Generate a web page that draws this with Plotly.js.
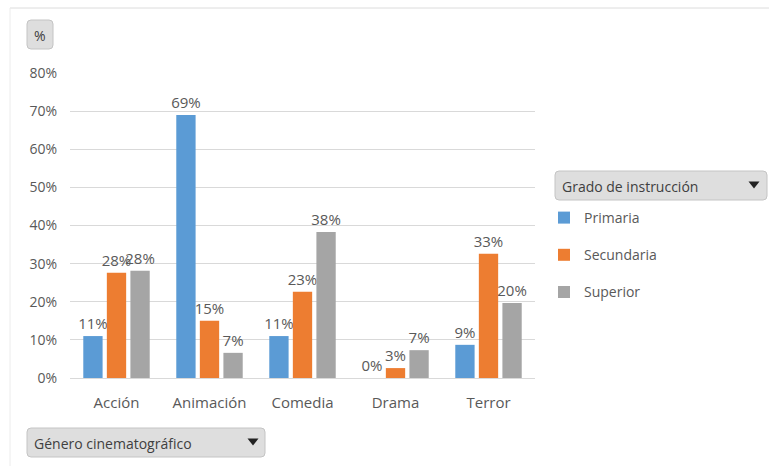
<!DOCTYPE html>
<html>
<head>
<meta charset="utf-8">
<script src="https://cdn.plot.ly/plotly-3.0.1.min.js"></script>
<style>html,body{margin:0;padding:0;background:#fff;}#chart{width:769px;height:466px;}</style>
</head>
<body>
<div id="chart"></div>
<script>
const categories = ["Acción", "Animación", "Comedia", "Drama", "Terror"];
const primaria   = [0.11, 0.69, 0.11, 0.0, 0.087];
const secundaria = [0.276, 0.15, 0.226, 0.026, 0.326];
const superior   = [0.281, 0.066, 0.383, 0.073, 0.197];
const seriesNames = ["Primaria", "Secundaria", "Superior"];
const yTickVals = [0, 0.1, 0.2, 0.3, 0.4, 0.5, 0.6, 0.7, 0.8];
const yTickText = ["0%", "10%", "20%", "30%", "40%", "50%", "60%", "70%", "80%"];

const W = 769, H = 466;
const M = {l: 70, r: 234, t: 73, b: 88};
const PW = W - M.l - M.r, PH = H - M.t - M.b;
const fx = px => (px - M.l) / PW;
const fy = py => (H - M.b - py) / PH;
const FONT = "Open Sans, DejaVu Sans, sans-serif";
const TXT = "#595959";

function roundRect(x0, y0, x1, y1, r) {
  const rx = r / PW, ry = r / PH;
  const X0 = fx(x0), X1 = fx(x1), Y0 = fy(y0), Y1 = fy(y1);
  return `M${X0 + rx},${Y0} L${X1 - rx},${Y0} Q${X1},${Y0} ${X1},${Y0 - ry} L${X1},${Y1 + ry} Q${X1},${Y1} ${X1 - rx},${Y1} L${X0 + rx},${Y1} Q${X0},${Y1} ${X0},${Y1 + ry} L${X0},${Y0 - ry} Q${X0},${Y0} ${X0 + rx},${Y0} Z`;
}
function tri(cx, cy, w, h) {
  return `M${fx(cx - w/2)},${fy(cy - h/2)} L${fx(cx + w/2)},${fy(cy - h/2)} L${fx(cx)},${fy(cy + h/2)} Z`;
}
function btn(x0, y0, x1, y1) {
  return {type: "path", xref: "paper", yref: "paper", path: roundRect(x0, y0, x1, y1, 4),
          fillcolor: "#dedede", line: {color: "#c4c4c4", width: 1}, layer: "above"};
}

const colors = ["#5B9BD5", "#ED7D31", "#A5A5A5"];
const values = [primaria, secundaria, superior];
const traces = values.map((v, i) => ({
  type: "bar", name: seriesNames[i], x: categories, y: v,
  marker: {color: colors[i]},
  texttemplate: "%{y:.0%}", textposition: "outside",
  textfont: {family: FONT, size: 15, color: TXT},
  constraintext: "none", cliponaxis: false,
  legendgroup: "g" + i, hoverinfo: "skip"
}));

const layout = {
  width: W, height: H,
  margin: M,
  paper_bgcolor: "#fff", plot_bgcolor: "#fff",
  font: {family: FONT, color: TXT, size: 14},
  barmode: "group", bargap: 0.24, bargroupgap: 0.18,
  xaxis: {showgrid: false, showline: false, ticks: "", zeroline: false,
          tickfont: {size: 15, color: TXT}, ticklabelstandoff: 14, fixedrange: true},
  yaxis: {range: [0, 0.8], tickvals: yTickVals, ticktext: yTickText,
          showgrid: true, gridcolor: "#d9d9d9", gridwidth: 1,
          zeroline: true, zerolinecolor: "#d9d9d9", zerolinewidth: 1,
          showline: false, ticks: "", tickfont: {size: 14, color: TXT},
          ticklabelstandoff: 12, fixedrange: true},
  showlegend: true,
  legend: {x: fx(544), y: fy(202), xanchor: "left", yanchor: "top",
           traceorder: "grouped", tracegroupgap: 16,
           font: {size: 14, color: TXT}, bgcolor: "rgba(0,0,0,0)",
           itemwidth: 30},
  shapes: [
    {type: "line", xref: "paper", yref: "paper", x0: fx(10), x1: fx(769), y0: fy(8), y1: fy(8), line: {color: "#dcdcdc", width: 1}},
    {type: "line", xref: "paper", yref: "paper", x0: fx(10), x1: fx(10), y0: fy(8), y1: fy(466), line: {color: "#ececec", width: 1}},
    btn(27, 20, 53, 49),
    btn(27, 428, 265, 457),
    btn(555, 171, 767, 200),
    {type: "path", xref: "paper", yref: "paper", path: tri(253, 442, 11, 7), fillcolor: "#222", line: {width: 0}, layer: "above"},
    {type: "path", xref: "paper", yref: "paper", path: tri(754, 185, 11, 7), fillcolor: "#222", line: {width: 0}, layer: "above"}
  ],
  annotations: [
    {xref: "paper", yref: "paper", x: fx(40), y: fy(35), text: "%", showarrow: false, xanchor: "center", yanchor: "middle", font: {size: 14, color: "#404040"}},
    {xref: "paper", yref: "paper", x: fx(32), y: fy(443), text: "Género cinematográfico", showarrow: false, xanchor: "left", yanchor: "middle", font: {size: 14, color: "#404040"}},
    {xref: "paper", yref: "paper", x: fx(560), y: fy(186), text: "Grado de instrucción", showarrow: false, xanchor: "left", yanchor: "middle", font: {size: 14, color: "#404040"}}
  ]
};

Plotly.newPlot("chart", traces, layout, {displayModeBar: false, staticPlot: true});
</script>
</body>
</html>
